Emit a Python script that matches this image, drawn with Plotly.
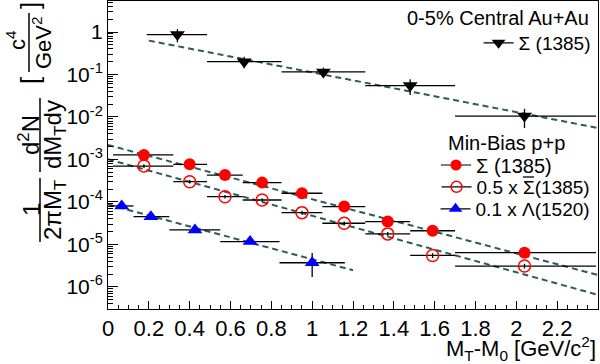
import plotly.graph_objects as go

# ---------------- data ----------------
# 0-5% central Au+Au, Sigma(1385)
auau_x = [0.34, 0.667, 1.055, 1.48, 2.04]
auau_xlo = [0.19, 0.485, 0.85, 1.26, 1.70]
auau_xhi = [0.485, 0.85, 1.26, 1.70, 2.39]
auau_y = [0.87, 0.20, 0.115, 0.055, 0.0105]
auau_yerr = [0.30, 0.06, 0.03, 0.022, 0.005]

# min-bias p+p, Sigma(1385) and 0.5 x anti-Sigma(1385)
pp_x = [0.176, 0.40, 0.573, 0.755, 0.95, 1.157, 1.37, 1.59, 2.04]
pp_xlo = [0.025, 0.32, 0.485, 0.66, 0.85, 1.05, 1.26, 1.48, 1.70]
pp_xhi = [0.32, 0.485, 0.66, 0.85, 1.05, 1.26, 1.48, 1.70, 2.39]
sig_y = [1.28e-3, 7.7e-4, 4.3e-4, 2.85e-4, 1.6e-4, 7.8e-5, 3.45e-5, 2.1e-5, 6.4e-6]
sig_yerr = [1.2e-4, 7e-5, 4e-5, 2.5e-5, 1.5e-5, 8e-6, 4e-6, 2.5e-6, 1e-6]
asig_y = [7.0e-4, 3.0e-4, 1.33e-4, 1.11e-4, 5.6e-5, 3.15e-5, 1.77e-5, 5.5e-6, 3.1e-6]
asig_yerr = [7e-5, 3e-5, 1.3e-5, 1.1e-5, 6e-6, 3e-6, 2e-6, 7e-7, 4e-7]

# min-bias p+p, 0.1 x Lambda(1520)
lam_x = [0.067, 0.21, 0.426, 0.696, 1.0]
lam_xlo = [0.01, 0.125, 0.30, 0.55, 0.84]
lam_xhi = [0.125, 0.30, 0.55, 0.84, 1.16]
lam_y = [8.05e-5, 4.5e-5, 2.2e-5, 1.17e-5, 3.7e-6]
lam_yerr_hi = [8e-6, 5e-6, 2.5e-6, 1.5e-6, 2.6e-6]
lam_yerr_lo = [8e-6, 5e-6, 2.5e-6, 1.5e-6, 2.0e-6]

# exponential fits (straight on log axis), end points
fit_auau_x = [0.2, 2.4]
fit_auau_y = [0.627, 5.5e-3]
fit_sig_x = [0.0, 2.4]
fit_sig_y = [2.19e-3, 1.9e-6]
fit_asig_x = [0.0, 2.4]
fit_asig_y = [1.01e-3, 6.5e-7]
fit_lam_x = [0.0, 1.2]
fit_lam_y = [8.7e-5, 2.47e-6]

y_tickvals = [1e-6, 1e-5, 1e-4, 1e-3, 1e-2, 1e-1, 1]
y_ticktext = ["10<sup>-6</sup>", "10<sup>-5</sup>", "10<sup>-4</sup>", "10<sup>-3</sup>",
              "10<sup>-2</sup>", "10<sup>-1</sup>", "1"]
x_tickvals = [0, 0.2, 0.4, 0.6, 0.8, 1.0, 1.2, 1.4, 1.6, 1.8, 2.0, 2.2]
x_ticktext = ["0", "0.2", "0.4", "0.6", "0.8", "1", "1.2", "1.4", "1.6", "1.8", "2", "2.2"]

# ---------------- figure ----------------
FONT = "Liberation Sans, Arial, Helvetica, sans-serif"
W, H = 600, 364
L, R, T, B = 108, 2, 1, 55
FIT_COLOR = "#2d5a5a"


def PX(px):
    return (px - L) / (W - L - R)


def PY(py):
    return (H - B - py) / (H - T - B)


def minus(v, lo):
    return [a - b for a, b in zip(v, lo)]


fig = go.Figure()

for fx, fy in [(fit_auau_x, fit_auau_y), (fit_sig_x, fit_sig_y),
               (fit_asig_x, fit_asig_y), (fit_lam_x, fit_lam_y)]:
    fig.add_trace(go.Scatter(x=fx, y=fy, mode="lines", showlegend=False,
                             line=dict(color=FIT_COLOR, width=2, dash="6px,4px"),
                             hoverinfo="skip"))


def data_trace(x, y, xlo, xhi, ylo, yhi, marker):
    return go.Scatter(
        x=x, y=y, mode="markers", showlegend=False, marker=marker,
        error_x=dict(type="data", symmetric=False, array=minus(xhi, x), arrayminus=minus(x, xlo),
                     color="black", thickness=1.3, width=0),
        error_y=dict(type="data", symmetric=False, array=yhi, arrayminus=ylo,
                     color="black", thickness=1.3, width=0),
    )


fig.add_trace(data_trace(auau_x, auau_y, auau_xlo, auau_xhi, auau_yerr, auau_yerr,
                         dict(symbol="triangle-down", size=13, color="black")))
fig.add_trace(data_trace(pp_x, sig_y, pp_xlo, pp_xhi, sig_yerr, sig_yerr,
                         dict(symbol="circle", size=12, color="#ff0000")))
fig.add_trace(data_trace(pp_x, asig_y, pp_xlo, pp_xhi, asig_yerr, asig_yerr,
                         dict(symbol="circle-open", size=12, color="#ff0000", line=dict(width=1.5))))
fig.add_trace(data_trace(lam_x, lam_y, lam_xlo, lam_xhi, lam_yerr_lo, lam_yerr_hi,
                         dict(symbol="triangle-up", size=13, color="#0000ff")))

# legend entries
legend_entries = [
    ("Σ (1385)", dict(symbol="triangle-down", size=12, color="black"), "legend"),
    ("Σ (1385)", dict(symbol="circle", size=11, color="#ff0000"), "legend2"),
    ("0.5 x Σ(1385)", dict(symbol="circle-open", size=11, color="#ff0000", line=dict(width=1.5)), "legend3"),
    ("0.1 x Λ(1520)", dict(symbol="triangle-up", size=12, color="#0000ff"), "legend4"),
]
for name, mk, lg in legend_entries:
    fig.add_trace(go.Scatter(x=[None], y=[None], mode="lines+markers", name=name,
                             marker=mk, line=dict(color="black", width=1.2), legend=lg))


def leg(x, y, anchor, size):
    return dict(x=x, y=y, xanchor=anchor, yanchor="middle", itemwidth=30,
                font=dict(family=FONT, size=size, color="black"),
                bgcolor="rgba(0,0,0,0)", borderwidth=0)


fig.update_layout(
    legend=leg(0.995, PY(43), "right", 19),
    legend2=leg(PX(436), PY(165), "left", 20),
    legend3=leg(0.995, PY(187), "right", 19),
    legend4=leg(0.995, PY(209), "right", 19),
)

minor_y = [m * 10.0 ** e for e in range(-7, 1) for m in range(2, 10)]

fig.update_layout(
    width=W, height=H,
    margin=dict(l=L, r=R, t=T, b=B),
    paper_bgcolor="white", plot_bgcolor="white",
    font=dict(family=FONT, size=21, color="black"),
    xaxis=dict(range=[0, 2.4], tickvals=x_tickvals, ticktext=x_ticktext,
               ticks="inside", ticklen=8, tickwidth=1, tickcolor="black",
               minor=dict(ticks="inside", ticklen=4, dtick=0.05, tick0=0, tickcolor="black"),
               showline=True, linecolor="black", linewidth=1, mirror=True,
               showgrid=False, zeroline=False, tickfont=dict(size=22), automargin=False),
    yaxis=dict(type="log", range=[-6.52, 0.73], tickvals=y_tickvals, ticktext=y_ticktext,
               ticks="inside", ticklen=10, tickwidth=1, tickcolor="black",
               minor=dict(ticks="inside", ticklen=5, tickvals=minor_y, tickcolor="black"),
               showline=True, linecolor="black", linewidth=1, mirror=True,
               showgrid=False, zeroline=False, tickfont=dict(size=21), automargin=False),
)

ann = []


def add_text(text, px, py, size, angle=0, xanchor="center", yanchor="middle"):
    ann.append(dict(text=text, x=PX(px), y=PY(py), xref="paper", yref="paper",
                    showarrow=False, textangle=angle, xanchor=xanchor, yanchor=yanchor,
                    font=dict(family=FONT, size=size, color="black")))


# y title made of rotated fractions
add_text("1", 31, 210, 24, -90)
add_text("2πM<sub>T</sub>", 54, 210, 24, -90)
add_text("d<sup>2</sup>N", 29, 135, 24, -90)
add_text("dM<sub>T</sub>dy", 54, 135, 24, -90)
add_text("c<sup>4</sup>", 16, 40, 22, -90)
add_text("GeV<sup>2</sup>", 42, 43, 22, -90)
add_text("[", 30, 80, 26, -90)
add_text("]", 30, 6, 26, -90)

# x title
add_text("M<sub>T</sub>-M<sub>0</sub> [GeV/c<sup>2</sup>]", 598, 348, 22, 0, xanchor="right")

# legend headers
add_text("0-5% Central Au+Au", 591, 18, 20, 0, xanchor="right")
add_text("Min-Bias p+p", 446, 143, 20, 0, xanchor="left")

fig.update_layout(annotations=ann)

shapes = []
for (x0, y0, y1) in [(40, 178, 242), (40, 98, 172), (29, 13, 72)]:
    shapes.append(dict(type="line", xref="paper", yref="paper", x0=PX(x0), x1=PX(x0),
                       y0=PY(y0), y1=PY(y1), line=dict(color="black", width=1.5)))
# overbar of the anti-Sigma in the legend
shapes.append(dict(type="line", xref="paper", yref="paper", x0=PX(523), x1=PX(534),
                   y0=PY(177), y1=PY(177), line=dict(color="black", width=1.3)))
fig.update_layout(shapes=shapes)

fig.write_html("out.html", config={"displayModeBar": False},
               post_script="document.body.style.margin='0px';")
